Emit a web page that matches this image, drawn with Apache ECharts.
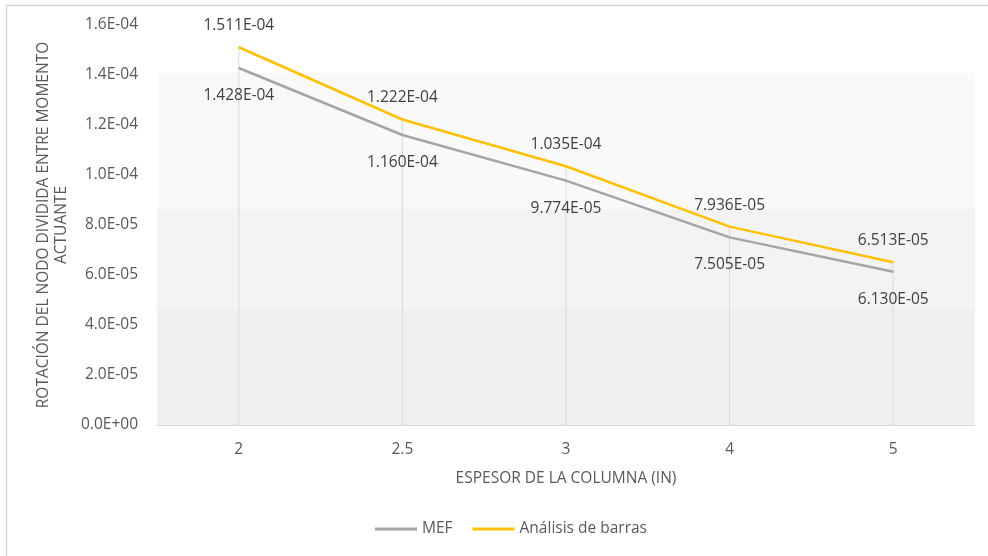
<!DOCTYPE html>
<html><head><meta charset="utf-8">
<script src="https://cdn.jsdelivr.net/npm/echarts@6/dist/echarts.min.js"></script>
<style>html,body{margin:0;padding:0;background:#fff}#c{width:988px;height:556px}</style>
</head><body><div id="c"></div>
<script>
const categories = ['2', '2.5', '3', '4', '5'];
const mef = [1.428e-4, 1.160e-4, 9.774e-5, 7.505e-5, 6.130e-5];
const barras = [1.511e-4, 1.222e-4, 1.035e-4, 7.936e-5, 6.513e-5];
const bandEdges = [0, 4.64e-5, 8.64e-5, 1.408e-4];
const bandColors = ['#efefef', '#f3f3f3', '#f9f9f9'];

function sci(v, d) {
  let s = Number(v).toExponential(d);
  let [m, e] = s.split('e');
  let sign = e[0] === '-' ? '-' : '+';
  let n = e.replace(/[+-]/, '');
  if (n.length < 2) n = '0' + n;
  return m + 'E' + sign + n;
}
const FONT = 'Open Sans';
const FS = 15.5;
const drop = mef.map((v, i) => Math.max(v, barras[i]));
const bands = [];
for (let i = 0; i < bandColors.length; i++) {
  bands.push([{ yAxis: bandEdges[i], itemStyle: { color: bandColors[i] } }, { yAxis: bandEdges[i + 1] }]);
}
const chart = echarts.init(document.getElementById('c'));
chart.setOption({
  animation: false,
  backgroundColor: '#fff',
  graphic: [
    { type: 'polyline', shape: { points: [[6.5, 556], [6.5, 5.5], [988, 5.5]] }, style: { fill: null, stroke: '#d9d9d9', lineWidth: 1.5 }, silent: true }
  ],
  grid: { left: 157, right: 13, top: 25, bottom: 131 },
  legend: {
    bottom: 14, left: 370, data: ['MEF', 'Análisis de barras'],
    icon: 'rect', itemWidth: 42, itemHeight: 3, itemGap: 20,
    textStyle: { fontFamily: FONT, fontSize: FS, color: '#595959' }
  },
  xAxis: {
    type: 'category', data: categories, boundaryGap: true,
    name: 'ESPESOR DE LA COLUMNA (IN)', nameLocation: 'middle', nameGap: 46,
    nameTextStyle: { fontFamily: FONT, fontSize: FS, color: '#595959' },
    axisLine: { lineStyle: { color: '#d9d9d9', width: 1 } },
    axisTick: { show: false },
    axisLabel: { fontFamily: FONT, fontSize: FS, color: '#595959', margin: 17 },
    splitLine: { show: false }
  },
  yAxis: {
    type: 'value', min: 0, max: 1.6e-4, interval: 2e-5,
    name: 'ROTACIÓN DEL NODO DIVIDIDA ENTRE MOMENTO\nACTUANTE', nameLocation: 'middle', nameGap: 85, nameRotate: 90,
    nameTextStyle: { fontFamily: FONT, fontSize: FS, color: '#595959', lineHeight: 18 },
    axisLine: { show: false }, axisTick: { show: false },
    splitLine: { show: false },
    axisLabel: { fontFamily: FONT, fontSize: FS, color: '#595959', margin: 19, formatter: v => sci(v, 1) }
  },
  series: [
    {
      name: 'drop', type: 'bar', data: drop, barWidth: 1, silent: true, z: 1,
      itemStyle: { color: '#d9d9d9' },
      markArea: { silent: true, data: bands, z: 0 }
    },
    {
      name: 'MEF', type: 'line', data: mef, symbol: 'circle', symbolSize: 1, z: 3,
      lineStyle: { color: '#a5a5a5', width: 2.5 }, itemStyle: { color: '#a5a5a5' },
      label: { show: true, position: 'bottom', distance: 19, fontFamily: FONT, fontSize: FS, color: '#404040', formatter: p => sci(p.value, 3) }
    },
    {
      name: 'Análisis de barras', type: 'line', data: barras, symbol: 'circle', symbolSize: 1, z: 4,
      lineStyle: { color: '#ffc000', width: 2.5 }, itemStyle: { color: '#ffc000' },
      label: { show: true, position: 'top', distance: 13, fontFamily: FONT, fontSize: FS, color: '#404040', formatter: p => sci(p.value, 3) }
    }
  ]
});
</script></body></html>
